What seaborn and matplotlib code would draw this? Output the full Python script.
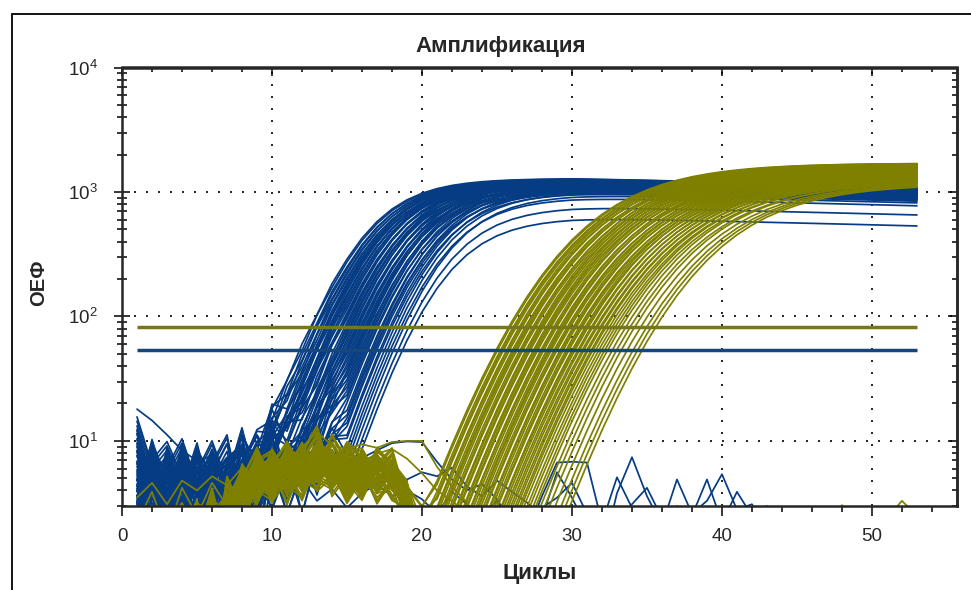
import numpy as np
import pandas as pd
import matplotlib
matplotlib.use('Agg')
import matplotlib.pyplot as plt
from matplotlib.patches import Rectangle
from matplotlib.ticker import MultipleLocator, LogLocator, NullFormatter
import seaborn as sns

sns.set_style('ticks')
plt.rcParams['font.family'] = ['Liberation Sans', 'DejaVu Sans']

cycles = np.arange(1, 54)

# threshold levels (RFU) for both channels
blue_thr = 54
olive_thr = 83

# per-well threshold crossing cycle and plateau
blue_ct = [12.0, 12.1, 12.3, 12.4, 12.5, 12.6, 12.7, 12.8, 12.9, 13.0,
           13.0, 13.1, 13.2, 13.3, 13.4, 13.4, 13.5, 13.6, 13.7, 13.8,
           13.9, 14.0, 14.0, 14.1, 14.2, 14.3, 14.4, 14.5, 14.5, 14.6,
           14.7, 14.8, 14.9, 15.0, 15.0, 15.1, 15.2, 15.3, 15.4, 15.5,
           15.6, 15.6, 15.7, 15.8, 15.9, 16.0, 16.1, 16.2, 16.3, 16.4,
           16.6, 16.7, 16.8, 16.9, 17.0, 17.2, 17.3, 17.5, 17.7, 17.9,
           18.1, 18.4, 18.7]
blue_plateau = [1280, 1260, 1240, 1275, 1220, 1265, 1200, 1250, 1230, 1190,
                1270, 1210, 1245, 1180, 1260, 1225, 1160, 1235, 1205, 1255,
                1140, 1215, 1190, 1245, 1120, 1200, 1230, 1170, 1100, 1210,
                1150, 1240, 1080, 1185, 1135, 1220, 1060, 1165, 1195, 1110,
                1050, 1175, 1130, 1205, 1030, 1145, 1090, 1160, 1015, 1120,
                1070, 1140, 1000, 1100, 1040, 1080, 980, 1050, 1000, 900,
                950, 760, 620]
blue_sag = 0.14  # slow drop of the plateau after cycle 30

olive_ct = [25.8, 25.9, 26.1, 26.2, 26.3, 26.5, 26.6, 26.7, 26.9, 27.0,
            27.1, 27.2, 27.4, 27.5, 27.6, 27.8, 27.9, 28.0, 28.1, 28.3,
            28.4, 28.5, 28.6, 28.8, 28.9, 29.0, 29.2, 29.3, 29.4, 29.5,
            29.7, 29.8, 29.9, 30.1, 30.2, 30.3, 30.5, 30.6, 30.7, 30.9,
            31.0, 31.1, 31.3, 31.4, 31.6, 31.7, 31.9, 32.0, 32.2, 32.3,
            32.5, 32.7, 32.9, 33.1, 33.3, 33.6, 33.9, 34.2, 34.6, 35.0,
            35.3, 35.6]
olive_plateau = [1700, 1680, 1660, 1700, 1640, 1690, 1620, 1670, 1600, 1650,
                 1590, 1640, 1570, 1630, 1550, 1610, 1530, 1600, 1510, 1580,
                 1500, 1560, 1480, 1540, 1460, 1520, 1440, 1500, 1420, 1480,
                 1400, 1460, 1380, 1440, 1360, 1420, 1340, 1400, 1320, 1380,
                 1300, 1360, 1280, 1340, 1260, 1320, 1250, 1300, 1240, 1280,
                 1230, 1260, 1220, 1250, 1210, 1240, 1200, 1220, 1190, 1180,
                 1170, 1160]

# baseline jitter, cycles 1..14 (blue) and 1..20 (olive)
blue_noise = [
    [5.2, 2.0, 6.8, 3.1, 7.4, 2.5, 4.6, 8.2, 1.0, 5.5, 3.7, 6.1, 1.2, 4.2],
    [2.4, 7.9, 3.2, 5.8, 1.5, 6.6, 3.3, 4.1, 7.0, 2.9, 5.9, 2.7, 6.4, 1.8],
    [9.5, 3.6, 5.0, 2.5, 4.4, 7.7, 3.6, 6.3, 4.0, 8.8, 2.2, 5.3, 3.9, 7.1],
    [4.1, 6.2, 2.2, 7.3, 3.6, 5.1, 8.6, 2.2, 5.7, 3.0, 7.5, 3.1, 4.8, 6.0],
    [6.9, 3.9, 4.7, 8.0, 3.5, 1.2, 5.6, 7.2, 2.9, 6.7, 2.4, 4.9, 7.8, 3.2],
    [3.3, 5.4, 7.6, 4.0, 6.1, 4.3, 2.3, 5.0, 8.4, 3.7, 6.5, 3.4, 2.5, 5.8],
    [12.0, 4.9, 2.8, 6.4, 3.7, 5.9, 3.8, 9.8, 3.1, 4.6, 6.9, 1.7, 5.2, 4.4],
    [3.6, 8.1, 4.2, 2.9, 7.1, 4.3, 6.0, 4.5, 3.4, 13.0, 3.3, 5.6, 2.6, 6.8],
]
blue_gain = [1.0, 0.8, 1.2, 0.7, 0.95, 1.1, 0.85, 1.3]

olive_noise = [
    [2.1, 4.3, 1.2, 3.6, 1.0, 4.8, 2.2, 6.4, 3.6, 7.2, 4.5, 6.0, 8.8, 5.1, 6.6, 4.0, 7.4, 5.5, 3.8, 1.5],
    [0.8, 3.0, 4.4, 0.6, 3.9, 2.5, 5.1, 3.4, 6.9, 3.7, 7.8, 4.6, 5.9, 7.1, 3.8, 6.5, 5.2, 6.8, 4.1, 2.0],
    [3.7, 0.9, 2.8, 4.6, 0.4, 3.3, 4.0, 5.8, 4.4, 6.3, 5.0, 8.1, 4.4, 6.0, 7.6, 5.3, 4.7, 7.0, 2.9, 0.8],
    [1.4, 5.0, 2.0, 1.6, 4.4, 1.1, 6.2, 2.7, 5.5, 4.1, 6.7, 3.9, 7.3, 5.6, 4.9, 6.9, 3.6, 5.8, 4.6, 1.2],
    [4.5, 0.3, 3.4, 2.3, 5.2, 0.2, 3.1, 4.9, 7.4, 3.8, 5.6, 6.8, 10.5, 4.2, 6.1, 5.0, 6.4, 4.3, 3.1, 2.6],
    [0.5, 2.6, 4.9, 3.2, 1.6, 4.5, 2.9, 6.0, 4.2, 5.4, 8.3, 4.9, 6.2, 8.0, 5.4, 3.9, 7.1, 6.0, 5.0, 0.3],
    [2.9, 4.1, 0.8, 4.0, 3.3, 2.0, 5.3, 3.8, 5.9, 7.0, 3.6, 7.5, 5.3, 4.8, 6.9, 7.3, 4.4, 5.1, 2.5, 0.5],
    [1.1, 1.8, 3.6, 5.3, 2.6, 5.8, 1.7, 4.6, 3.8, 6.0, 5.2, 4.1, 7.9, 6.6, 3.7, 5.8, 6.3, 4.0, 3.9, 1.9],
    [3.3, 5.6, 2.4, 1.5, 4.8, 3.7, 4.4, 2.2, 6.6, 4.8, 6.1, 5.7, 4.5, 9.4, 5.8, 4.6, 5.5, 7.7, 3.4, 1.0],
    [1.9, 0.4, 4.2, 2.9, 0.9, 3.0, 3.6, 5.2, 4.7, 3.9, 7.2, 6.3, 5.6, 5.0, 8.2, 6.2, 3.9, 5.3, 4.7, 2.2],
]
olive_env = [0.45, 0.45, 0.5, 0.5, 0.55, 0.6, 0.7, 0.85, 1.0, 1.0,
             1.0, 1.0, 1.05, 1.0, 1.0, 1.0, 1.0, 0.95, 0.8, 0.4]
olive_gain = [1.0, 0.85, 1.15, 0.9, 1.05, 1.2, 0.95]

# wells without amplification (cycles 1..53)
blue_neg = [
    [18.0, 14.6, 11.2, 8.4, 6.9, 7.6, 6.0, 6.6, 7.9, 6.3, 5.6, 7.0, 7.7, 6.2, 6.9, 7.3, 8.4, 9.6,
     9.9, 9.8, 6.8, 4.9, 4.0, 4.5, 3.4, 2.2, 1.8, 3.6, 6.7, 6.8, 6.7, 2.2, 5.1, 2.9, 1.6, 1.2,
     2.0, 1.4, 1.0, 0.8, 0.5, 0.4, 0.3, 0.2, 0.2, 0.2, 0.2, 0.2, 0.2, 0.2, 0.2, 0.2, 0.2],
    [4.8, 6.1, 3.9, 5.2, 4.4, 6.6, 5.0, 3.7, 6.0, 4.9, 5.5, 4.2, 6.3, 5.1, 4.6, 5.8, 6.2, 5.4,
     4.9, 5.6, 5.2, 6.1, 4.3, 3.6, 4.8, 3.9, 3.2, 2.4, 5.6, 3.5, 2.0, 1.2, 3.8, 7.4, 3.6, 2.1,
     4.9, 2.6, 3.3, 5.4, 2.8, 3.1, 1.9, 0.8, 0.4, 0.2, 0.2, 0.2, 0.2, 0.2, 0.2, 0.2, 0.2],
    [3.2, 4.4, 2.6, 3.9, 5.1, 3.0, 4.2, 3.5, 2.8, 4.6, 3.7, 4.9, 3.3, 4.1, 2.9, 3.8, 4.5, 3.6,
     4.0, 3.4, 2.6, 3.9, 3.1, 2.5, 3.3, 2.1, 1.6, 2.9, 3.5, 4.6, 2.6, 1.3, 2.2, 3.1, 4.2, 2.4,
     3.0, 2.5, 4.9, 2.2, 3.9, 2.5, 3.0, 1.5, 0.6, 0.2, 0.2, 0.2, 0.2, 0.2, 0.2, 0.2, 0.2],
]
olive_neg = [
    [3.5, 4.6, 3.1, 4.8, 4.0, 5.2, 4.4, 6.1, 5.3, 7.4, 6.8, 8.9, 11.8, 9.2, 8.6, 9.4, 8.8, 9.8,
     10.0, 10.0, 6.2, 4.3, 3.2, 2.1, 1.2, 0.8, 0.5, 0.4, 0.3, 0.3, 0.3, 0.3, 0.3, 0.3, 0.3, 0.3,
     0.3, 0.3, 0.3, 0.3, 0.3, 0.3, 0.3, 0.3, 0.3, 0.3, 0.3, 0.3, 0.3, 0.3, 0.3, 0.3, 0.3],
    [2.2, 3.9, 1.8, 4.2, 2.5, 4.6, 3.0, 2.1, 3.3, 5.0, 4.1, 6.2, 7.5, 6.4, 5.1, 6.8, 7.9, 8.6,
     7.2, 5.5, 4.0, 3.3, 2.6, 1.9, 1.5, 1.2, 1.0, 0.8, 0.6, 0.5, 0.5, 0.5, 0.5, 0.5, 0.5, 0.5,
     0.5, 0.5, 0.5, 0.5, 0.5, 0.5, 0.5, 0.5, 0.5, 0.6, 1.8, 3.05, 2.2, 1.0, 2.4, 3.3, 2.5],
]


def richards(ct, fmax, thr, k, s):
    # sigmoid anchored so it crosses the threshold at ct
    u_thr = -np.log((thr / fmax) ** (-1 / s) - 1)
    c0 = ct - u_thr * k
    return fmax * (1 + np.exp(-(cycles - c0) / k)) ** (-s)


frames = []
well = 0
for i, (ct, fmax) in enumerate(zip(blue_ct, blue_plateau)):
    y = richards(ct, fmax, blue_thr, 2.5, 2.2)
    y = y * (1 - blue_sag * np.clip((cycles - 30) / 23, 0, 1))
    nz = np.array(blue_noise[i % len(blue_noise)]) * blue_gain[(i // len(blue_noise)) % len(blue_gain)]
    y[:len(nz)] += nz
    frames.append(pd.DataFrame({'cycle': cycles, 'fluor': y, 'dye': 'blue', 'well': well}))
    well += 1
for row in blue_neg:
    frames.append(pd.DataFrame({'cycle': cycles, 'fluor': row, 'dye': 'blue', 'well': well}))
    well += 1
for i, (ct, fmax) in enumerate(zip(olive_ct, olive_plateau)):
    y = richards(ct, fmax, olive_thr, 4.2, 3.6)
    nz = np.array(olive_noise[i % len(olive_noise)]) * np.array(olive_env)
    nz = nz * olive_gain[(i // len(olive_noise)) % len(olive_gain)]
    y[:len(nz)] += nz
    frames.append(pd.DataFrame({'cycle': cycles, 'fluor': y, 'dye': 'olive', 'well': well}))
    well += 1
for row in olive_neg:
    frames.append(pd.DataFrame({'cycle': cycles, 'fluor': row, 'dye': 'olive', 'well': well}))
    well += 1

df = pd.concat(frames, ignore_index=True)
# values at or below zero can't go on a log axis; push them under the bottom edge
df['fluor'] = df['fluor'].clip(lower=0.5)

colors = {'blue': '#053c84', 'olive': '#7f7f00'}

fig = plt.figure(figsize=(9.71, 5.90), dpi=100)
ax = fig.add_axes([122 / 971, 1 - 506 / 590, 835 / 971, 438.5 / 590])
ax.set_yscale('log')

sns.lineplot(data=df, x='cycle', y='fluor', hue='dye', units='well', estimator=None,
             hue_order=['blue', 'olive'], palette=colors, linewidth=1.25, legend=False, ax=ax)

ax.hlines(olive_thr, cycles[0], cycles[-1], color='#76761a', linewidth=2.5, zorder=5)
ax.hlines(blue_thr, cycles[0], cycles[-1], color='#15477a', linewidth=2.5, zorder=5)

ax.set_xlim(0, 55.67)
ax.set_ylim(3.0, 1e4)
ax.xaxis.set_major_locator(MultipleLocator(10))
ax.xaxis.set_minor_locator(MultipleLocator(2))
ax.yaxis.set_major_locator(LogLocator(base=10))
ax.yaxis.set_minor_locator(LogLocator(base=10, subs=np.arange(2, 10)))
ax.yaxis.set_minor_formatter(NullFormatter())

ax.grid(True, which='major', color='black', linestyle=(0, (1.2, 6)), linewidth=1.2)
ax.set_axisbelow(True)

ax.tick_params(axis='x', which='major', direction='out', length=7, width=1.3, labelsize=13.5, pad=9)
ax.tick_params(axis='x', which='minor', direction='out', length=4.5, width=1.3)
ax.tick_params(axis='y', which='major', direction='inout', length=11, width=1.3, labelsize=13.5, pad=12)
ax.tick_params(axis='y', which='minor', direction='inout', length=7, width=1.3)

top = ax.secondary_xaxis('top')
top.xaxis.set_major_locator(MultipleLocator(10))
top.xaxis.set_minor_locator(MultipleLocator(2))
top.xaxis.set_major_formatter(NullFormatter())
top.tick_params(axis='x', which='major', direction='in', length=6.5, width=1.3)
top.tick_params(axis='x', which='minor', direction='in', length=3.5, width=1.3)

right = ax.secondary_yaxis('right')
right.yaxis.set_major_locator(LogLocator(base=10))
right.yaxis.set_minor_locator(LogLocator(base=10, subs=np.arange(2, 10)))
right.yaxis.set_major_formatter(NullFormatter())
right.yaxis.set_minor_formatter(NullFormatter())
right.tick_params(axis='y', which='major', direction='in', length=6.5, width=1.3)
right.tick_params(axis='y', which='minor', direction='in', length=3.5, width=1.3)

for a in (ax, top, right):
    for sp in a.spines.values():
        sp.set_linewidth(1.8)

ax.set_xlabel('Циклы', fontsize=16, fontweight='bold', labelpad=13)
ax.set_ylabel('ОЕФ', fontsize=14.5, fontweight='bold')
ax.yaxis.set_label_coords(-0.088, 0.51)
ax.set_title('Амплификация', fontsize=16, fontweight='bold', x=0.453, pad=11)

fig.add_artist(Rectangle((12 / 971, -0.5), 2, 1.5 - 14 / 590, transform=fig.transFigure,
                         fill=False, edgecolor='black', linewidth=1.3))

fig.savefig('out.png', dpi=100)
